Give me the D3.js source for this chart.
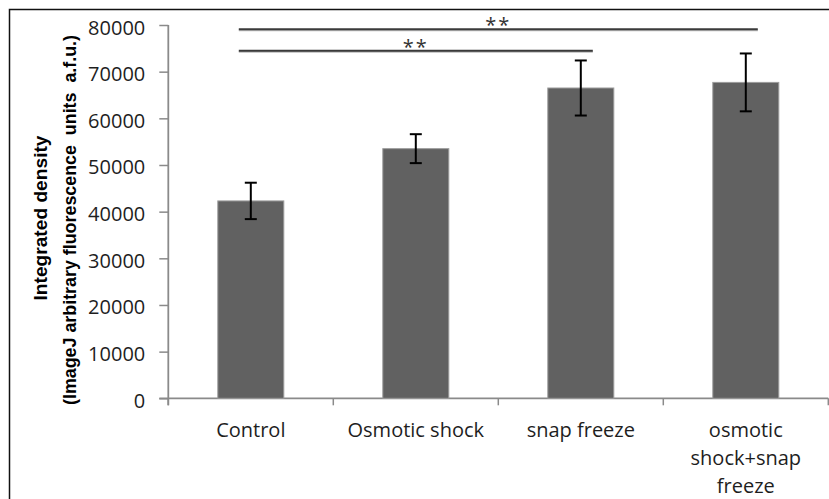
<!DOCTYPE html>
<html>
<head>
<meta charset="utf-8">
<script src="https://cdn.jsdelivr.net/npm/d3@7"></script>
<style>
  html, body { margin: 0; padding: 0; background: #fff; }
  svg { display: block; }
</style>
</head>
<body>
<svg id="chart" width="829" height="499"></svg>
<script>
// ---- data ----
const categories = ["Control", "Osmotic shock", "snap freeze", "osmotic shock+snap freeze"];
const categoryLines = [["Control"], ["Osmotic shock"], ["snap freeze"], ["osmotic", "shock+snap", "freeze"]];
const means = [42300, 53500, 66500, 67700];
const errors = [3900, 3100, 5900, 6200];
const yTicks = [0, 10000, 20000, 30000, 40000, 50000, 60000, 70000, 80000];
const yTitleLines = ["Integrated density", "(ImageJ arbitrary fluorescence  units  a.f.u.)"];
const brackets = [
  { from: "Control", to: "osmotic shock+snap freeze", level: 79100, label: "**" },
  { from: "Control", to: "snap freeze", level: 74500, label: "**" }
];

// ---- drawing ----
const svg = d3.select("#chart");
const font = "'Open Sans', 'DejaVu Sans', sans-serif";

// outer frame (clipped by the picture on right/bottom)
svg.append("rect")
  .attr("x", 9.5).attr("y", 9.5).attr("width", 900).attr("height", 600)
  .attr("fill", "none").attr("stroke", "#111").attr("stroke-width", 1.5);

const x = d3.scaleBand().domain(categories).range([168.3, 828.3])
  .paddingInner(0.6).paddingOuter(0.3);
const y = d3.scaleLinear().domain([0, 80000]).range([398.3, 25]);

const axisColor = "#8a8a8a";

// y axis
const yAxis = d3.axisLeft(y).tickValues(yTicks).tickSize(9).tickPadding(14).tickFormat(d3.format("d"));
const gy = svg.append("g").attr("transform", "translate(168.3,0)").call(yAxis);
gy.select(".domain").attr("stroke", axisColor).attr("stroke-width", 1.8)
  .attr("d", `M0,${y(80000)}V${y(0) + 7}`);
gy.selectAll(".tick line").attr("stroke", axisColor).attr("stroke-width", 1.5);
gy.selectAll(".tick text")
  .attr("font-family", font).attr("font-size", 20).attr("fill", "#1e1e1e")
  .attr("dy", "0.45em");

// x axis line + boundary ticks
const step = x.step();
const xStart = x.range()[0];
const boundaries = d3.range(categories.length + 1).map(i => xStart + i * step);
svg.append("line")
  .attr("x1", xStart - 9).attr("x2", boundaries[boundaries.length - 1])
  .attr("y1", y(0)).attr("y2", y(0))
  .attr("stroke", axisColor).attr("stroke-width", 1.8);
svg.selectAll(".xtick").data(boundaries).join("line")
  .attr("class", "xtick")
  .attr("x1", d => d).attr("x2", d => d)
  .attr("y1", y(0)).attr("y2", y(0) + 7)
  .attr("stroke", axisColor).attr("stroke-width", 1.5);

// bars
svg.selectAll(".bar").data(categories).join("rect")
  .attr("class", "bar")
  .attr("x", d => x(d))
  .attr("y", (d, i) => y(means[i]))
  .attr("width", x.bandwidth())
  .attr("height", (d, i) => y(0) - y(means[i]))
  .attr("fill", "#616161")
  .attr("stroke", "#9c9c9c").attr("stroke-width", 1);

// error bars
const cap = 6;
const eg = svg.append("g").attr("stroke", "#000").attr("stroke-width", 2);
categories.forEach((c, i) => {
  const cx = x(c) + x.bandwidth() / 2;
  const top = y(means[i] + errors[i]);
  const bot = y(means[i] - errors[i]);
  eg.append("line").attr("x1", cx).attr("x2", cx).attr("y1", top).attr("y2", bot);
  eg.append("line").attr("x1", cx - cap).attr("x2", cx + cap).attr("y1", top).attr("y2", top);
  eg.append("line").attr("x1", cx - cap).attr("x2", cx + cap).attr("y1", bot).attr("y2", bot);
});

// x labels
const xl = svg.append("g");
categoryLines.forEach((lines, i) => {
  const cx = x(categories[i]) + x.bandwidth() / 2;
  const t = xl.append("text")
    .attr("x", cx).attr("y", 437)
    .attr("text-anchor", "middle")
    .attr("font-family", font).attr("font-size", 20).attr("fill", "#1e1e1e");
  lines.forEach((ln, j) => {
    t.append("tspan").attr("x", cx).attr("dy", j === 0 ? 0 : 28).text(ln);
  });
});

// significance brackets
brackets.forEach(b => {
  const x1 = x(b.from) + x.bandwidth() / 2 - 12;
  const x2 = x(b.to) + x.bandwidth() / 2 + 12;
  const ly = y(b.level);
  svg.append("line")
    .attr("x1", x1).attr("x2", x2).attr("y1", ly + 1).attr("y2", ly + 1)
    .attr("stroke", "#bbb").attr("stroke-width", 2);
  svg.append("line")
    .attr("x1", x1).attr("x2", x2).attr("y1", ly).attr("y2", ly)
    .attr("stroke", "#3a3a3a").attr("stroke-width", 2);
  svg.append("text")
    .attr("x", (x1 + x2) / 2).attr("y", ly + 3)
    .attr("text-anchor", "middle")
    .attr("font-family", font).attr("font-size", 20).attr("fill", "#333")
    .attr("letter-spacing", 2)
    .text(b.label);
});

// y title (two rotated bold lines)
const titleCfg = [
  { bx: 47, cy: 218, len: 165 },
  { bx: 76, cy: 220, len: 370 }
];
yTitleLines.forEach((txt, i) => {
  const c = titleCfg[i];
  svg.append("text")
    .attr("transform", `translate(${c.bx},${c.cy}) rotate(-90)`)
    .attr("text-anchor", "middle")
    .attr("font-family", "'Liberation Sans Narrow', 'Liberation Sans', Arial, sans-serif")
    .attr("font-weight", "bold").attr("font-size", 19).attr("fill", "#000")
    .attr("textLength", c.len).attr("lengthAdjust", "spacingAndGlyphs")
    .style("white-space", "pre")
    .text(txt);
});
</script>
</body>
</html>
